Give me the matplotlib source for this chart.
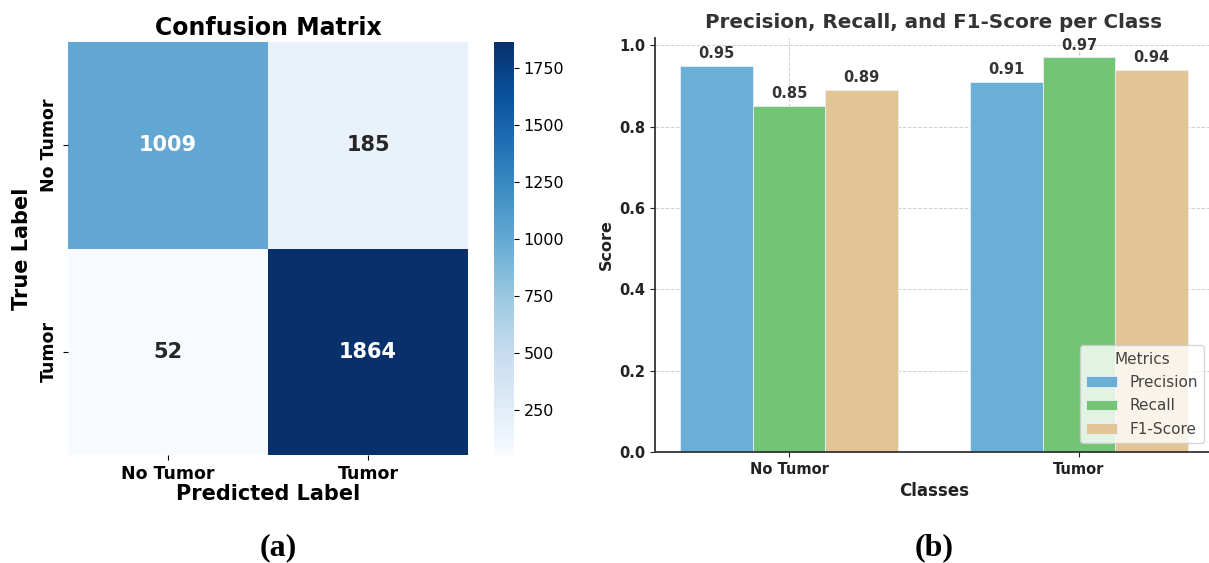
import numpy as np
import matplotlib
matplotlib.use("Agg")
import matplotlib.pyplot as plt
import seaborn as sns

class_names = ["No Tumor", "Tumor"]
conf_matrix = np.array([[1009, 185],
                        [52, 1864]])

metric_names = ["Precision", "Recall", "F1-Score"]
precision = [0.95, 0.91]
recall = [0.85, 0.97]
f1_score = [0.89, 0.94]
metric_colors = ["#6baed6", "#74c476", "#e3c494"]

plt.rcParams["font.family"] = ["DejaVu Sans"]

fig = plt.figure(figsize=(12.09, 5.63), dpi=100)

# (a) confusion matrix
ax1 = fig.add_axes([0.0562, 0.1918, 0.331, 0.7336])
cax = fig.add_axes([0.4086, 0.1918, 0.0165, 0.7336])
sns.heatmap(conf_matrix, annot=True, fmt="d", cmap="Blues", ax=ax1, cbar_ax=cax,
            xticklabels=class_names, yticklabels=class_names,
            annot_kws={"fontsize": 15, "fontweight": "bold"})
ax1.set_title("Confusion Matrix", fontsize=17, fontweight="bold", pad=5)
ax1.set_xlabel("Predicted Label", fontsize=15, fontweight="bold", labelpad=1)
ax1.set_ylabel("True Label", fontsize=15, fontweight="bold", labelpad=6)
ax1.tick_params(labelsize=12.5)
for lbl in ax1.get_xticklabels():
    lbl.set_fontweight("bold")
for lbl in ax1.get_yticklabels():
    lbl.set_fontweight("bold")
    lbl.set_rotation(90)
    lbl.set_va("center")
cax.tick_params(labelsize=11.5)
cax.set_yticks([250, 500, 750, 1000, 1250, 1500, 1750])

# (b) per-class metrics
ax2 = fig.add_axes([0.5418, 0.197, 0.4615, 0.736])
x = np.arange(len(class_names))
width = 0.25
for i, (vals, name) in enumerate(zip([precision, recall, f1_score], metric_names)):
    bars = ax2.bar(x + (i - 1) * width, vals, width, label=name,
                   color=metric_colors[i], edgecolor="#e8f0f6", linewidth=0.6)
    for b, v in zip(bars, vals):
        ax2.text(b.get_x() + b.get_width() / 2, v + 0.012, f"{v:.2f}",
                 ha="center", va="bottom", fontsize=10.5, fontweight="bold",
                 color="#333333")

ax2.set_xticks(x)
ax2.set_xticklabels(class_names, fontsize=10, fontweight="bold")
ax2.set_title("Precision, Recall, and F1-Score per Class", fontsize=14.3,
              fontweight="bold", color="#333333", pad=7)
ax2.set_xlabel("Classes", fontsize=12, fontweight="bold", color="#222222")
ax2.set_ylabel("Score", fontsize=11.5, fontweight="bold", color="#222222")
for lbl in ax2.get_yticklabels():
    lbl.set_fontweight("bold")
ax2.tick_params(labelsize=10.5, colors="#222222")
ax2.grid(True, linestyle="--", color="#d0d0d0", linewidth=0.7)
ax2.set_axisbelow(True)
ax2.spines["top"].set_visible(False)
ax2.spines["right"].set_visible(False)
for s in ["left", "bottom"]:
    ax2.spines[s].set_color("#333333")
    ax2.spines[s].set_linewidth(1.3)
leg = ax2.legend(title="Metrics", loc="lower right", fontsize=11,
                 title_fontsize=11, framealpha=0.8, handlelength=2.0,
                 labelspacing=0.55, borderaxespad=0.6)
for t in leg.get_texts():
    t.set_color("#444444")
leg.get_title().set_color("#444444")

# panel labels
fig.text(0.23, 0.027, "(a)", family="Liberation Serif", fontweight="bold",
         fontsize=23, ha="center", va="center")
fig.text(0.773, 0.027, "(b)", family="Liberation Serif", fontweight="bold",
         fontsize=23, ha="center", va="center")

fig.savefig("out.png", dpi=100)
